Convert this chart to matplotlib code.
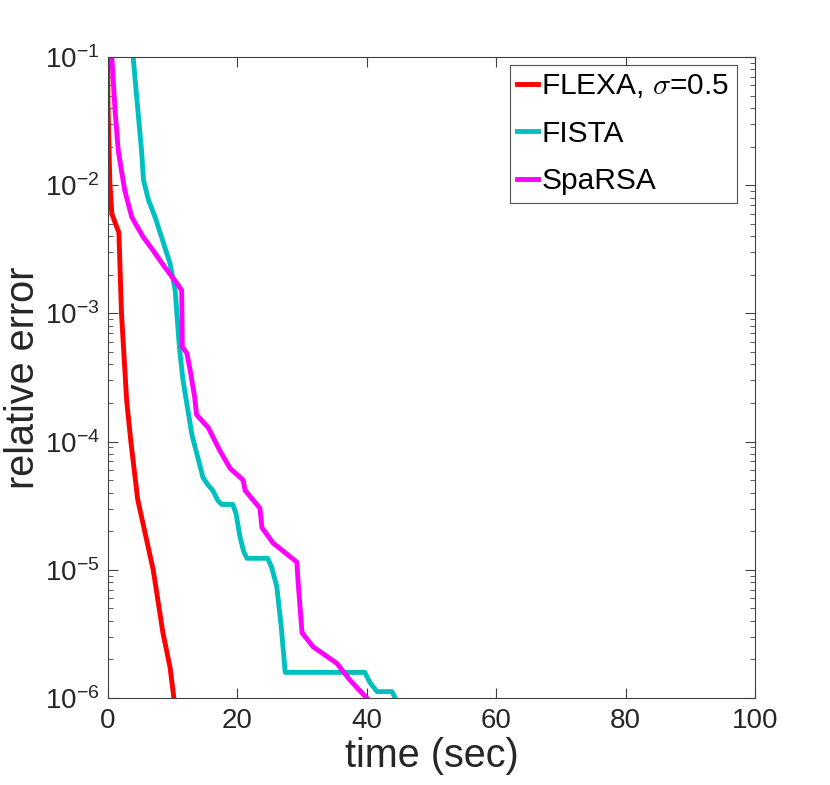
import numpy as np
import matplotlib.pyplot as plt

plt.rcParams['font.family'] = ['Liberation Sans', 'DejaVu Sans']
plt.rcParams['mathtext.fontset'] = 'cm'

# FLEXA, sigma=0.5
flexa_t = [0.0, 0.0, 0.3, 0.6, 1.1, 1.7, 2.1, 2.9, 3.55, 4.6, 7.0, 8.5, 9.6, 10.2]
flexa_err = [1e-1, 10**-1.34, 10**-1.98, 10**-2.22, 10**-2.29, 10**-2.37, 10**-3.0,
             10**-3.68, 10**-4.0, 10**-4.45, 10**-5.0, 10**-5.49, 10**-5.76, 1e-6]

# FISTA
fista_t = [3.9, 4.5, 5.2, 5.5, 6.3, 7.3, 9.6, 10.4, 10.8, 11.1, 11.6, 13.0, 14.7,
           15.5, 16.2, 17.0, 17.6, 19.3, 19.8, 20.4, 21.0, 21.5, 24.7, 25.3, 26.1,
           26.8, 27.4, 39.7, 40.5, 41.6, 43.9, 44.4]
fista_err = [1e-1, 10**-1.34, 10**-1.73, 10**-1.96, 10**-2.12, 10**-2.25, 10**-2.61,
             10**-2.82, 10**-3.1, 10**-3.29, 10**-3.52, 10**-3.95, 10**-4.28,
             10**-4.34, 10**-4.38, 10**-4.46, 10**-4.49, 10**-4.49, 10**-4.56,
             10**-4.74, 10**-4.86, 10**-4.91, 10**-4.91, 10**-4.98, 10**-5.13,
             10**-5.45, 10**-5.80, 10**-5.80, 10**-5.88, 10**-5.95, 10**-5.95, 1e-6]

# SpaRSA
sparsa_t = [0.6, 1.1, 1.6, 2.6, 3.7, 5.4, 7.0, 8.8, 10.6, 11.4, 11.5, 12.2, 12.7,
            13.4, 13.7, 15.5, 17.3, 18.9, 20.9, 21.2, 23.5, 23.8, 25.5, 29.2,
            29.4, 30.0, 31.7, 35.4, 37.4, 40.0]
sparsa_err = [1e-1, 10**-1.41, 10**-1.73, 10**-2.04, 10**-2.25, 10**-2.40, 10**-2.51,
              10**-2.64, 10**-2.76, 10**-2.82, 10**-3.26, 10**-3.31, 10**-3.44,
              10**-3.65, 10**-3.79, 10**-3.89, 10**-4.07, 10**-4.21, 10**-4.30,
              10**-4.38, 10**-4.52, 10**-4.67, 10**-4.79, 10**-4.94, 10**-5.10,
              10**-5.49, 10**-5.60, 10**-5.73, 10**-5.86, 1e-6]

fig = plt.figure(figsize=(8.3, 7.85), dpi=100)
ax = fig.add_axes([0.130, 0.1108, 0.7796, 0.8166])

ax.semilogy(flexa_t, flexa_err, color='#FF0000', linewidth=3.5, label=r'FLEXA, $\sigma$=0.5')
ax.semilogy(fista_t, fista_err, color='#00BFBF', linewidth=3.5, label='FISTA')
ax.semilogy(sparsa_t, sparsa_err, color='#FF00FF', linewidth=3.5, label='SpaRSA')

ax.set_xlim(0, 100)
ax.set_ylim(1e-6, 1e-1)
ax.set_xticks([0, 20, 40, 60, 80, 100])

grey = '#262626'
for s in ax.spines.values():
    s.set_color('#404040')
    s.set_linewidth(0.8)
ax.tick_params(which='both', direction='in', top=True, right=True, colors='#404040',
               labelcolor=grey, labelsize=20)
ax.tick_params(which='major', length=7)
ax.tick_params(which='minor', length=3.5)
ax.tick_params(axis='x', pad=7)
ax.tick_params(axis='y', pad=6)

ax.set_xlabel('time (sec)', fontsize=28.5, color=grey, labelpad=2)
ax.set_ylabel('relative error', fontsize=28.5, color=grey, labelpad=2)

leg = ax.legend(loc='upper right', bbox_to_anchor=(0.972, 0.9875), fontsize=21.5,
                frameon=True, fancybox=False, handlelength=0.7, handletextpad=0.1,
                borderaxespad=0, labelspacing=0.65, borderpad=0.25)
leg.get_frame().set_edgecolor('#262626')
leg.get_frame().set_linewidth(0.8)

plt.savefig('out.png', dpi=100)
